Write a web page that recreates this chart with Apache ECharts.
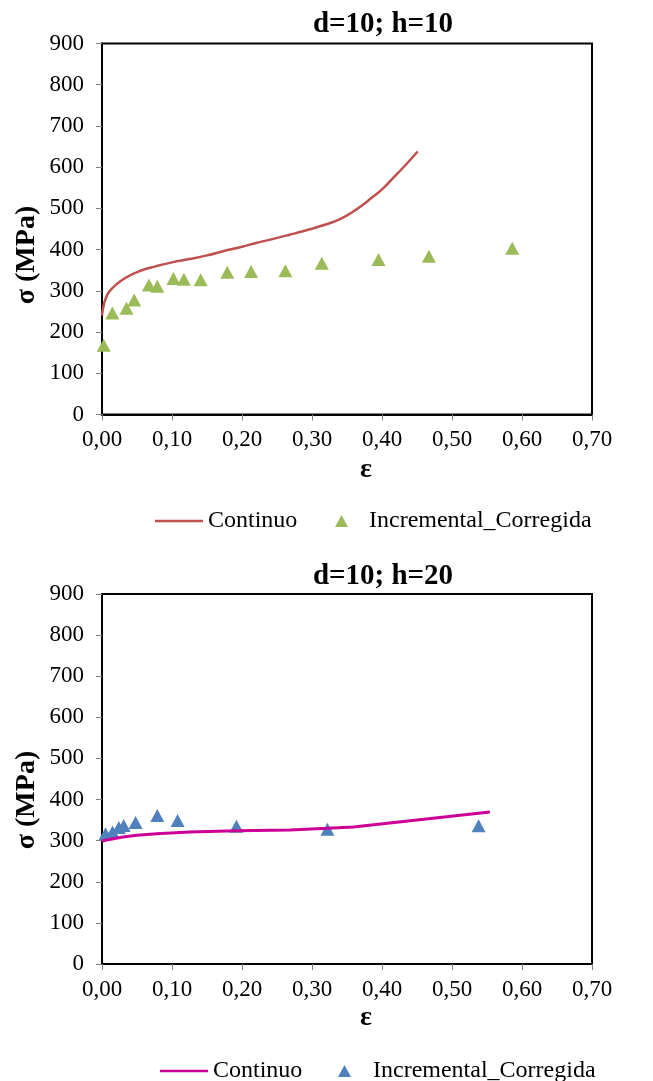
<!DOCTYPE html>
<html>
<head>
<meta charset="utf-8">
<script src="https://cdn.jsdelivr.net/npm/echarts@6/dist/echarts.min.js"></script>
<style>
html,body{margin:0;padding:0;background:#fff;}
#c{width:653px;height:1081px;}
</style>
</head>
<body>
<div id="c"></div>
<script>
// ---- data ----
var titles = ['d=10; h=10', 'd=10; h=20'];
var xTickLabels = ['0,00', '0,10', '0,20', '0,30', '0,40', '0,50', '0,60', '0,70'];
var yTicks = [0, 100, 200, 300, 400, 500, 600, 700, 800, 900];

// Chart 1 (d=10; h=10)
var continuo1 = [
  [0.000, 240], [0.002, 262], [0.005, 280], [0.010, 297], [0.020, 315],
  [0.035, 333], [0.054, 348], [0.078, 360], [0.100, 369], [0.125, 377],
  [0.150, 386], [0.173, 396], [0.200, 407], [0.220, 416], [0.245, 426],
  [0.268, 436], [0.292, 447], [0.316, 459], [0.340, 474], [0.363, 497],
  [0.387, 528], [0.400, 546], [0.415, 572], [0.433, 604], [0.451, 638]
];
var incremental1 = [
  [0.0024, 168], [0.0148, 246], [0.035, 258], [0.046, 278], [0.067, 314],
  [0.079, 311], [0.102, 330], [0.117, 328], [0.141, 327], [0.179, 345],
  [0.213, 347], [0.262, 349], [0.314, 367], [0.395, 376], [0.467, 384], [0.586, 403]
];

// Chart 2 (d=10; h=20)
var continuo2 = [
  [0.000, 299], [0.010, 303], [0.030, 309], [0.050, 313], [0.078, 317],
  [0.125, 321], [0.192, 324], [0.268, 326], [0.322, 330], [0.359, 333], [0.554, 370]
];
var incremental2 = [
  [0.005, 317], [0.015, 321], [0.024, 332], [0.031, 337], [0.048, 344],
  [0.079, 361], [0.108, 349], [0.192, 335], [0.322, 328], [0.538, 336]
];

// ---- chart ----
var FONT = '"Times New Roman", "Liberation Serif", serif';
var chart = echarts.init(document.getElementById('c'), null, {renderer: 'canvas'});

function xAxis(gi) {
  return {
    gridIndex: gi, type: 'value', min: 0, max: 0.7, interval: 0.1,
    axisLine: {show: true, onZero: false, lineStyle: {color: '#000', width: 2}},
    axisTick: {show: true, length: 6, lineStyle: {color: '#808080', width: 1}},
    splitLine: {show: false},
    axisLabel: {
      margin: 14, color: '#000', fontFamily: FONT, fontSize: 23,
      formatter: function (v) { return xTickLabels[Math.round(v * 10)]; }
    }
  };
}
function yAxis(gi) {
  return {
    gridIndex: gi, type: 'value', min: yTicks[0], max: yTicks[yTicks.length - 1], interval: 100,
    axisLine: {show: true, onZero: false, lineStyle: {color: '#000', width: 2}},
    axisTick: {show: true, length: 6, lineStyle: {color: '#808080', width: 1}},
    splitLine: {show: false},
    axisLabel: {margin: 18, color: '#000', fontFamily: FONT, fontSize: 23}
  };
}
var legendText = {fontFamily: FONT, fontSize: 24, color: '#000'};
function stripName(n) { return n.replace(/_\d$/, ''); }

var option = {
  backgroundColor: '#fff',
  animation: false,
  grid: [
    {left: 102, top: 43.5, width: 490, height: 371, show: true, borderColor: '#000', borderWidth: 2, backgroundColor: 'transparent'},
    {left: 102, top: 594, width: 490, height: 370, show: true, borderColor: '#000', borderWidth: 2, backgroundColor: 'transparent'}
  ],
  xAxis: [xAxis(0), xAxis(1)],
  yAxis: [yAxis(0), yAxis(1)],
  legend: [
    {data: [{name: 'Continuo_1', icon: 'rect'}], left: 155, top: 509, padding: 0, itemWidth: 48, itemHeight: 2.5, formatter: stripName, textStyle: legendText},
    {data: [{name: 'Incremental_Corregida_1', icon: 'triangle'}], left: 335, top: 509, padding: 0, itemWidth: 13, itemHeight: 12, formatter: stripName,
      textStyle: Object.assign({padding: [0, 0, 0, 16]}, legendText)},
    {data: [{name: 'Continuo_2', icon: 'rect'}], left: 160, top: 1059, padding: 0, itemWidth: 48, itemHeight: 2.5, formatter: stripName, textStyle: legendText},
    {data: [{name: 'Incremental_Corregida_2', icon: 'triangle'}], left: 338, top: 1059, padding: 0, itemWidth: 13, itemHeight: 12, formatter: stripName,
      textStyle: Object.assign({padding: [0, 0, 0, 17]}, legendText)}
  ],
  graphic: [
    {type: 'text', x: 383, y: 25, style: {text: titles[0], font: 'bold 29px ' + FONT, fill: '#000', textAlign: 'center', textVerticalAlign: 'middle'}},
    {type: 'text', x: 383, y: 577, style: {text: titles[1], font: 'bold 29px ' + FONT, fill: '#000', textAlign: 'center', textVerticalAlign: 'middle'}},
    {type: 'text', x: 27, y: 255, rotation: Math.PI / 2, style: {text: 'σ (MPa)', font: 'bold 28px ' + FONT, fill: '#000', textAlign: 'center', textVerticalAlign: 'middle'}},
    {type: 'text', x: 27, y: 800, rotation: Math.PI / 2, style: {text: 'σ (MPa)', font: 'bold 28px ' + FONT, fill: '#000', textAlign: 'center', textVerticalAlign: 'middle'}},
    {type: 'text', x: 366, y: 470, style: {text: 'ε', font: 'bold 28px ' + FONT, fill: '#000', textAlign: 'center', textVerticalAlign: 'middle'}},
    {type: 'text', x: 366, y: 1018, style: {text: 'ε', font: 'bold 28px ' + FONT, fill: '#000', textAlign: 'center', textVerticalAlign: 'middle'}}
  ],
  series: [
    {name: 'Continuo_1', type: 'line', xAxisIndex: 0, yAxisIndex: 0, data: continuo1, smooth: 0.5,
      symbol: 'none', lineStyle: {color: '#C0504D', width: 2.5}, itemStyle: {color: '#C0504D'}},
    {name: 'Incremental_Corregida_1', type: 'scatter', xAxisIndex: 0, yAxisIndex: 0, data: incremental1,
      symbol: 'triangle', symbolSize: [14, 13], itemStyle: {color: '#9BBB59', opacity: 1}},
    {name: 'Continuo_2', type: 'line', xAxisIndex: 1, yAxisIndex: 1, data: continuo2, smooth: false,
      symbol: 'none', lineStyle: {color: '#CC0099', width: 3}, itemStyle: {color: '#CC0099'}},
    {name: 'Incremental_Corregida_2', type: 'scatter', xAxisIndex: 1, yAxisIndex: 1, data: incremental2,
      symbol: 'triangle', symbolSize: [14, 13], itemStyle: {color: '#4F81BD', opacity: 1}}
  ]
};
chart.setOption(option);
</script>
</body>
</html>
